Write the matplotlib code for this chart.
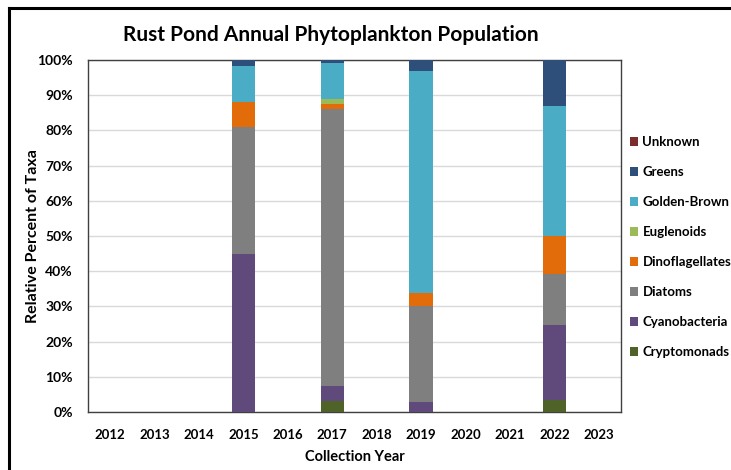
import matplotlib
matplotlib.use("Agg")
import matplotlib.pyplot as plt
from matplotlib.lines import Line2D
import numpy as np

years = ["2012", "2013", "2014", "2015", "2016", "2017", "2018",
         "2019", "2020", "2021", "2022", "2023"]

# Percent of taxa per group, one value per collection year
cryptomonads    = [0, 0, 0, 0.0, 0, 3.2, 0, 0.0, 0, 0, 3.4, 0]
cyanobacteria   = [0, 0, 0, 45.0, 0, 4.3, 0, 2.9, 0, 0, 21.3, 0]
diatoms         = [0, 0, 0, 36.0, 0, 78.5, 0, 27.3, 0, 0, 14.5, 0]
dinoflagellates = [0, 0, 0, 7.2, 0, 1.5, 0, 3.5, 0, 0, 10.8, 0]
euglenoids      = [0, 0, 0, 0.0, 0, 1.3, 0, 0.0, 0, 0, 0.0, 0]
golden_brown    = [0, 0, 0, 10.1, 0, 10.4, 0, 63.3, 0, 0, 36.9, 0]
greens          = [0, 0, 0, 1.7, 0, 0.8, 0, 3.0, 0, 0, 13.1, 0]
unknown         = [0, 0, 0, 0.0, 0, 0.0, 0, 0.0, 0, 0, 0.0, 0]

series = [
    ("Cryptomonads", cryptomonads, "#4F6228"),
    ("Cyanobacteria", cyanobacteria, "#604A7B"),
    ("Diatoms", diatoms, "#7F7F7F"),
    ("Dinoflagellates", dinoflagellates, "#E36C0A"),
    ("Euglenoids", euglenoids, "#9BBB59"),
    ("Golden-Brown", golden_brown, "#4BACC6"),
    ("Greens", greens, "#2E4F7A"),
    ("Unknown", unknown, "#7B2C2C"),
]

plt.rcParams["font.family"] = ["Lato", "DejaVu Sans"]

fig = plt.figure(figsize=(7.31, 4.70), dpi=100)
ax = fig.add_axes([88 / 731, 1 - 412 / 470, (621 - 88) / 731, (412 - 60) / 470])

x = np.arange(len(years))
bottom = np.zeros(len(years))
handles = []
for name, vals, color in series:
    v = np.array(vals, dtype=float)
    b = ax.bar(x, v, width=0.53, bottom=bottom, color=color, label=name, zorder=3)
    handles.append(b)
    bottom += v

ax.set_xlim(-0.5, len(years) - 0.5)
ax.set_ylim(0, 100)
ax.set_yticks(np.arange(0, 101, 10))
ax.set_yticklabels([f"{t}%" for t in range(0, 101, 10)])
ax.set_xticks(x)
ax.set_xticklabels(years)
ax.tick_params(axis="x", length=0, labelsize=9.5, pad=12)
ax.tick_params(axis="y", length=0, labelsize=10, pad=11)
for lbl in ax.get_xticklabels() + ax.get_yticklabels():
    lbl.set_fontweight("bold")

ax.yaxis.grid(True, color="#D9D9D9", linewidth=1.0, zorder=0)
ax.set_axisbelow(True)
for sp in ax.spines.values():
    sp.set_color("#404040")
    sp.set_linewidth(1.0)

ax.set_xlabel("Collection Year", fontsize=10.5, fontweight="bold", labelpad=7)
ax.set_ylabel("Relative Percent of Taxa", fontsize=11.5, fontweight="bold", labelpad=-2)

fig.text(331 / 731, 1 - 35 / 470, "Rust Pond Annual Phytoplankton Population",
         ha="center", va="center", fontsize=15, fontweight="bold")

leg = fig.legend(handles[::-1], [s[0] for s in series][::-1],
                 loc="center left", bbox_to_anchor=(618 / 731, 1 - 247 / 470),
                 bbox_transform=fig.transFigure, frameon=False,
                 handlelength=0.65, handleheight=0.65, handletextpad=0.3,
                 labelspacing=1.36, prop={"weight": "bold", "size": 9.5})

# Outer frame along the left and top edges
fig.add_artist(Line2D([9 / 731, 9 / 731], [0, 1 - 8 / 470], transform=fig.transFigure,
                      color="black", linewidth=2.2))
fig.add_artist(Line2D([9 / 731, 1], [1 - 8 / 470, 1 - 8 / 470], transform=fig.transFigure,
                      color="black", linewidth=2.2))

fig.savefig("out.png", dpi=100)
